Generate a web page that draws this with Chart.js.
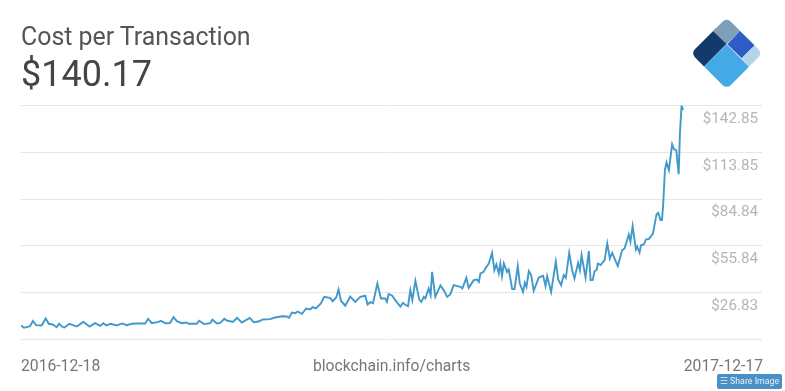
<!DOCTYPE html>
<html>
<head>
<meta charset="utf-8">
<title>Cost per Transaction</title>
<script src="https://cdn.jsdelivr.net/npm/chart.js@4"></script>
<style>
  html, body { margin: 0; padding: 0; background: #fff; }
  #wrap { position: relative; width: 785px; height: 391px; overflow: hidden; font-family: Roboto, sans-serif; }
  #myChart { position: absolute; left: 0; top: 0; }
  .txt { position: absolute; white-space: nowrap; line-height: 1; }
  #title { left: 21px; top: 25px; font-size: 24.9px; color: #555; }
  #value { left: 21px; top: 56px; font-size: 36px; color: #444; }
  .foot { top: 358px; font-size: 15.7px; color: #777; }
  #logo { position: absolute; left: 670px; top: 10px; }
  #share { position: absolute; left: 717px; top: 374px; width: 65px; height: 15px; background: #4a90c8; border-radius: 2px;
           color: #e8f1f8; font-size: 8.8px; line-height: 15px; text-align: center; }
</style>
</head>
<body>
<div id="wrap">
  <canvas id="myChart" width="785" height="391"></canvas>
  <div class="txt" id="title">Cost per Transaction</div>
  <div class="txt" id="value">$140.17</div>
  <svg id="logo" width="110" height="90" viewBox="0 0 330 270">
    <defs>
      <clipPath id="diamond"><rect x="94" y="54" width="152" height="152" rx="17" transform="rotate(45 170 130)"></rect></clipPath>
    </defs>
    <g clip-path="url(#diamond)">
      <polygon points="40,130 128,42 170,101 100,172" fill="#123a6b"></polygon>
      <polygon points="128,62 170,10 210,62 170,103" fill="#7d9fb8"></polygon>
      <polygon points="210,62 255,105 215,145 172,103" fill="#2f5cc4"></polygon>
      <polygon points="255,105 300,130 237,170 215,145" fill="#b3d5e8"></polygon>
      <polygon points="170,103 237,170 170,260 100,172" fill="#45a9e6"></polygon>
    </g>
  </svg>
  <div class="txt foot" style="left:21px">2016-12-18</div>
  <div class="txt foot" style="left:313px">blockchain.info/charts</div>
  <div class="txt foot" style="right:22px">2017-12-17</div>
  <div id="share">&#9776; Share Image</div>
</div>
<script>
// Days since 2016-12-18, sampled at the turning points of the line
const days = [0,1.7,5,6.6,8.3,11.4,13.6,15.3,17.5,19.7,21,22.5,24,26.7,30.8,34.4,37.8,40.9,43.7,45.5,47,49.5,52.9,55.8,58.4,61.1,63.9,68.5,70.2,72.2,75.9,77.2,80.1,82.3,84.2,86,88.8,91.2,92.5,97,98.3,101.1,104.4,105.7,108.1,110,112.2,113.6,117,119.2,121.9,126.2,128.5,131.1,133.5,137.5,140.3,144,146.8,147.9,149.5,151.4,152.7,155.1,157.4,159.6,160.9,162.8,165.5,167.4,170.7,172,174,175.3,176.6,179,181.7,184.5,187.3,190,191.3,192.8,194.3,196.7,198.7,201.1,202,202.9,204.8,206.6,209.4,210.8,212.1,213.6,214.9,216,217.7,219.9,221,222.3,223.2,225,226.1,226.9,228.7,231.5,233.3,235.2,237,238.8,242.5,243.6,245.8,247.1,249.9,251.7,252.7,253.6,255.4,256.3,258.2,260,261.3,262.4,263.7,264.6,265.5,266.5,268.3,269.2,270.1,271.1,272.4,274.2,275.3,277.1,278.1,279,280.3,281.6,283,285.8,288.2,289.5,290.4,292.6,295.2,296.5,298.1,299.6,300.7,302.6,304.2,305.5,307.5,308.5,309.4,311.6,313.4,314.4,315.5,316.6,317.7,318.4,319.9,322.1,323.6,325,326.3,329.4,331.8,333.1,335.5,336.4,337.6,339.4,340.1,341.4,342.3,343.8,344.9,346.6,348.8,350.8,351.7,353,353.8,354.5,355.4,356.3,357.6,359.4,360.5,361.7,363,363.7,364.6,365.5];
const costs = [6.45,5,6,9.3,6.7,6.45,10.8,7.5,7.1,5.4,7.5,5.8,5.2,7.5,5.8,8.7,5.8,7.9,6.2,7.9,6.45,7.5,6.45,7.7,6.65,7.5,7.7,7.7,10.6,7.9,8.7,9.35,7.7,8.1,11.6,9.1,7.9,8.3,7.5,7.5,9.35,7.3,7.9,10,7.7,8.1,10.6,9.55,8.7,11.2,8.3,11.2,8.5,8.9,10.2,10.4,11.4,12.2,12,11.2,14.5,14.1,15.1,13.7,17,16.4,17.8,17,20.1,24.2,23.4,21.5,23.8,28.8,21.8,18.7,24.4,21.1,24.2,24.9,19.5,20.9,20.3,32.5,23.2,23.2,21.1,25.9,25.1,22.2,18.2,20.5,19.3,18.4,28.4,22.2,34.2,22.2,21.1,24.2,23.2,29.4,25.3,39.7,24.2,31.3,28.4,24.2,25.9,31.5,30.4,29.4,36,29.8,34.6,35,33.5,38.7,39.7,41.8,44.9,51.5,40.8,44.3,38.7,44.9,37.1,44.9,39.7,41.2,35.6,29,29,43.3,32.5,27.3,32.9,30.4,40.2,37.7,27.9,36.2,37.3,30.9,37.1,27.3,46,35,31.5,37.7,36,51.5,40.8,35.6,45.3,40.8,50.1,36.2,52.6,34.6,34.6,40.2,40.8,44.9,43.9,47,57.3,48,51.5,43.3,53.2,54.2,62.9,58.4,68.1,53.6,55.3,51.7,56.3,56.7,59.8,60.2,63.5,75.5,76.3,71.8,71.8,82.1,102.8,107.6,102.8,118.9,115.6,115.2,100.3,125.6,142.7,140.17];
const tickValues = [-2.18,26.83,55.84,84.84,113.85,142.85];
const tickLabels = ['','$26.83','$55.84','$84.84','$113.85','$142.85'];

const ctx = document.getElementById('myChart').getContext('2d');
new Chart(ctx, {
    type: 'line',
    data: {
        datasets: [{
            data: days.map((d, i) => ({ x: d, y: costs[i] })),
            borderColor: '#4199cb',
            borderWidth: 1.9,
            pointRadius: 0,
            tension: 0,
            fill: false
        }]
    },
    options: {
        responsive: false,
        animation: false,
        layout: { padding: { left: 21, right: 23, top: 105.6, bottom: 51.6 } },
        plugins: { legend: { display: false }, tooltip: { enabled: false } },
        scales: {
            x: { type: 'linear', display: false, min: 0, max: 409 },
            y: {
                position: 'right',
                min: -2.18,
                max: 142.85,
                border: { display: false },
                grid: { color: '#e6e6e6', lineWidth: 1, drawTicks: false, tickLength: 0 },
                afterBuildTicks: (axis) => { axis.ticks = tickValues.map(v => ({ value: v })); },
                afterFit: (axis) => { axis.width = 0; },
                ticks: {
                    mirror: true,
                    padding: -4,
                    labelOffset: 13.5,
                    color: '#b5b5b5',
                    font: { family: 'Roboto', size: 15.2 },
                    callback: (v) => tickLabels[tickValues.indexOf(v)]
                }
            }
        }
    }
});
</script>
</body>
</html>
